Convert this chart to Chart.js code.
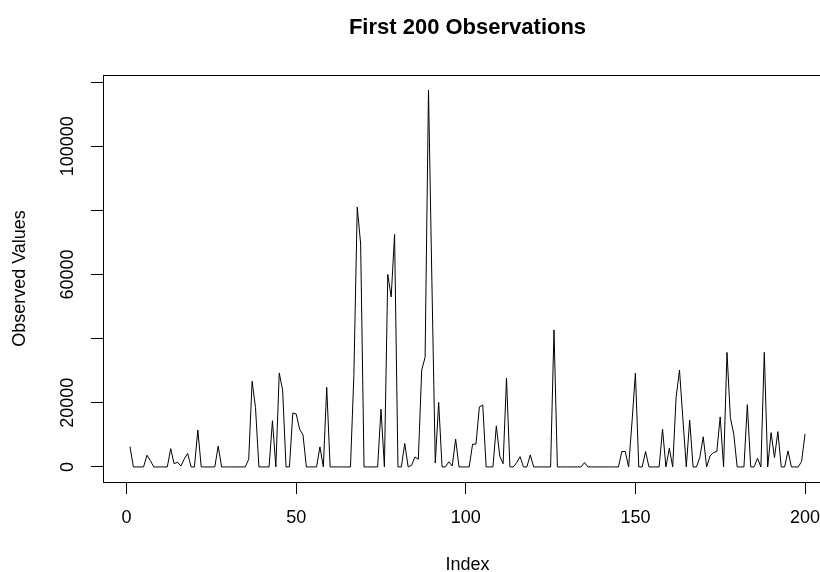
<!DOCTYPE html>
<html>
<head>
<meta charset="utf-8">
<script src="https://cdn.jsdelivr.net/npm/chart.js@4.4.1/dist/chart.umd.min.js"></script>
<style>
  html, body { margin: 0; padding: 0; overflow: hidden; background: #fff; }
  #wrap { width: 840px; height: 572px; }
</style>
</head>
<body>
<div id="wrap"><canvas id="obsChart" width="840" height="572"></canvas></div>
<script>
const chartTitle = 'First 200 Observations';
const xAxisTitle = 'Index';
const yAxisTitle = 'Observed Values';
const xTickValues = [0, 50, 100, 150, 200];
const yTickValues = [0, 20000, 40000, 60000, 80000, 100000, 120000];
// R leaves 40000, 80000 and 120000 without a label
const yLabelledTicks = [0, 20000, 60000, 100000];

// observations 1..200
const observed = [
  6250, 0, 0, 0, 0, 3650, 2000, 0, 0, 0,
  0, 0, 5700, 1000, 1500, 300, 2500, 4200, 0, 0,
  11500, 0, 0, 0, 0, 0, 6500, 0, 0, 0,
  0, 0, 0, 0, 0, 2400, 26700, 18500, 0, 0,
  0, 0, 14400, 0, 29300, 24000, 0, 0, 16800, 16500,
  11800, 10000, 0, 0, 0, 0, 6250, 0, 24800, 0,
  0, 0, 0, 0, 0, 0, 28500, 81000, 69500, 0,
  0, 0, 0, 0, 18000, 0, 60000, 53000, 72500, 0,
  0, 7300, 0, 500, 3100, 2400, 30200, 34200, 117500, 58000,
  1200, 20100, 0, 0, 1600, 300, 8700, 0, 0, 0,
  0, 7100, 7100, 18700, 19300, 0, 0, 0, 12800, 3400,
  1000, 27700, 0, 0, 1350, 3200, 0, 0, 3750, 0,
  0, 0, 0, 0, 0, 42700, 0, 0, 0, 0,
  0, 0, 0, 0, 1350, 0, 0, 0, 0, 0,
  0, 0, 0, 0, 0, 4800, 4800, 0, 14000, 29200,
  0, 0, 4800, 0, 0, 0, 0, 11800, 0, 5800,
  0, 21700, 30200, 15000, 0, 14600, 0, 0, 3000, 9400,
  0, 3400, 4500, 4800, 15600, 0, 35700, 15400, 10200, 0,
  0, 0, 19400, 0, 0, 2700, 0, 35700, 0, 10700,
  2900, 11000, 0, 0, 5000, 0, 0, 0, 1700, 10200
];

const points = observed.map((v, k) => ({x: k + 1, y: v}));
const fontFamily = '"Liberation Sans", Arial, sans-serif';

// box round the plot region, like R's bty="o"
const framePlugin = {
  id: 'frame',
  afterDraw(chart) {
    let a = chart.chartArea;
    let ctx = chart.ctx;
    ctx.save();
    ctx.strokeStyle = '#000';
    ctx.lineWidth = 1;
    ctx.strokeRect(Math.round(a.left) + 0.5, Math.round(a.top) + 0.5,
      Math.round(a.right - a.left), Math.round(a.bottom - a.top));
    ctx.restore();
  }
};

new Chart(document.getElementById('obsChart'), {
  type: 'line',
  data: {
    datasets: [{
      data: points,
      borderColor: '#000',
      borderWidth: 1,
      borderJoinStyle: 'round',
      borderCapStyle: 'round',
      pointRadius: 0,
      tension: 0,
      fill: false
    }]
  },
  options: {
    responsive: false,
    animation: false,
    devicePixelRatio: 1,
    layout: {padding: {left: 0, right: 8, top: 0, bottom: 0}},
    plugins: {
      legend: {display: false},
      tooltip: {enabled: false},
      title: {
        display: true,
        text: chartTitle,
        fullSize: false,
        color: '#000',
        font: {family: fontFamily, size: 22, weight: 'bold'},
        padding: {top: 15, bottom: 33.6}
      }
    },
    scales: {
      x: {
        type: 'linear',
        min: -6.96,
        max: 207.96,
        afterFit: (scale) => { scale.height = 90; },
        afterBuildTicks: (scale) => { scale.ticks = xTickValues.map(v => ({value: v})); },
        grid: {drawOnChartArea: false, drawTicks: true, tickLength: 12, color: '#000'},
        border: {display: true, color: '#000'},
        ticks: {
          padding: 13,
          color: '#000',
          font: {family: fontFamily, size: 18},
          maxRotation: 0,
          autoSkip: false
        },
        title: {
          display: true,
          text: xAxisTitle,
          color: '#000',
          font: {family: fontFamily, size: 18},
          padding: {top: 0, bottom: -4}
        }
      },
      y: {
        min: -4700,
        max: 122200,
        afterFit: (scale) => { scale.width = 103; },
        afterBuildTicks: (scale) => { scale.ticks = yTickValues.map(v => ({value: v})); },
        grid: {drawOnChartArea: false, drawTicks: true, tickLength: 12, color: '#000'},
        border: {display: true, color: '#000'},
        ticks: {
          minRotation: 90,
          maxRotation: 90,
          crossAlign: 'center',
          padding: -7,
          autoSkip: false,
          color: '#000',
          font: {family: fontFamily, size: 18},
          callback: (v) => yLabelledTicks.includes(v) ? String(v) : ''
        },
        title: {
          display: true,
          text: yAxisTitle,
          color: '#000',
          font: {family: fontFamily, size: 18},
          padding: {top: 9, bottom: 0}
        }
      }
    }
  },
  plugins: [framePlugin]
});
</script>
</body>
</html>
